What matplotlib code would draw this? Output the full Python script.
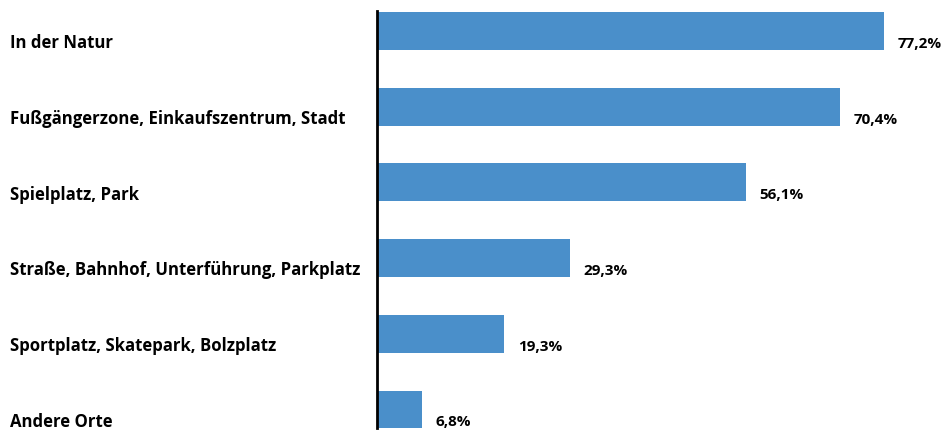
import matplotlib.pyplot as plt
import matplotlib.transforms as mtransforms

# Orte, an denen ... (Anteile in %)
categories = ["In der Natur",
              "Fußgängerzone, Einkaufszentrum, Stadt",
              "Spielplatz, Park",
              "Straße, Bahnhof, Unterführung, Parkplatz",
              "Sportplatz, Skatepark, Bolzplatz",
              "Andere Orte"]
values = [77.2, 70.4, 56.1, 29.3, 19.3, 6.8]

plt.rcParams['font.family'] = ['Open Sans', 'DejaVu Sans']

fig = plt.figure(figsize=(9.44, 4.32), dpi=100)
ax = fig.add_axes([377 / 944, 0, 567 / 944, 421 / 432])

ypos = list(range(len(categories)))
ax.barh(ypos, values, height=0.5, color="#4A8FCA")

ax.set_xlim(0, 86.3)
ax.set_ylim(5.298, -0.265)

for s in ["top", "right", "bottom"]:
    ax.spines[s].set_visible(False)
ax.spines["left"].set_linewidth(2.0)
ax.spines["left"].set_color("black")
ax.spines["left"].set_bounds(-0.265, len(categories) - 0.75)
ax.set_xticks([])
ax.set_yticks([])

# category labels left aligned at the figure edge
trans = mtransforms.blended_transform_factory(fig.transFigure, ax.transData)
for y, cat in zip(ypos, categories):
    ax.text(10 / 944, y + 0.16, cat, transform=trans, ha="left", va="center",
            fontsize=12.1, fontweight="bold", color="black", clip_on=False)

# value labels
for y, v in zip(ypos, values):
    ax.annotate(("%.1f%%" % v).replace(".", ","), xy=(v, y + 0.17),
                xytext=(10, 0), textcoords="offset points",
                ha="left", va="center", fontsize=11, fontweight="bold",
                color="black", annotation_clip=False)

fig.savefig("out.png", dpi=100)
